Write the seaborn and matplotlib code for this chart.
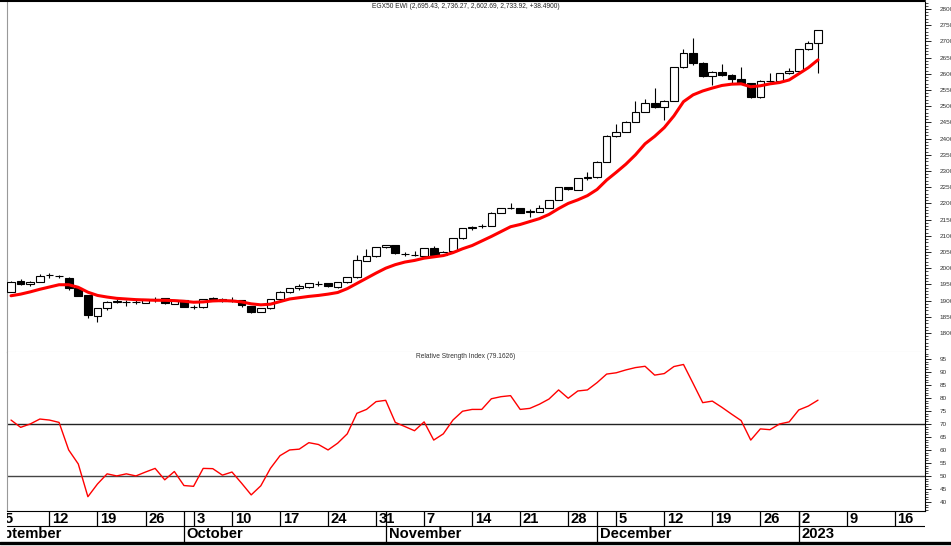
import numpy as np
import pandas as pd
import matplotlib
matplotlib.use("Agg")
import matplotlib.pyplot as plt
import seaborn as sns
from matplotlib.lines import Line2D
from matplotlib.ticker import MultipleLocator, FixedLocator

sns.set_theme(style="white")
plt.rcParams["font.family"] = ["Liberation Sans", "DejaVu Sans"]

# ----------------------------------------------------------
# data (EGX50 EWI daily, Egyptian trading week Sun-Thu)
# ----------------------------------------------------------
holidays = ["2022-10-06", "2023-01-01"]
first_day = "2022-09-06"
last_day = "2023-01-04"

opens = [1928, 1960, 1950, 1957, 1978, 1976, 1969, 1938, 1917, 1852,
         1876, 1896, 1896, 1896, 1894, 1905, 1907, 1891, 1902, 1880,
         1879, 1906, 1905, 1900, 1902, 1883, 1866, 1876, 1904, 1926,
         1940, 1941, 1951, 1953, 1941, 1956, 1972, 2023, 2037, 2064,
         2071, 2045, 2042, 2038, 2061, 2041, 2053, 2092, 2124, 2130,
         2130, 2171, 2186, 2185, 2175, 2175, 2187, 2210, 2250, 2241,
         2279, 2280, 2329, 2408, 2421, 2452, 2483, 2509, 2497, 2517,
         2620, 2665, 2634, 2593, 2607, 2596, 2583, 2571, 2527, 2578,
         2579, 2602, 2610, 2676, 2695.43]
highs = [1960, 1966, 1961, 1981, 1986, 1979, 1974, 1938, 1918, 1877,
         1900, 1904, 1902, 1904, 1905, 1912, 1908, 1902, 1903, 1886,
         1906, 1912, 1907, 1912, 1903, 1884, 1877, 1906, 1929, 1940,
         1951, 1955, 1960, 1955, 1957, 1974, 2041, 2058, 2066, 2073,
         2073, 2051, 2052, 2062, 2068, 2052, 2093, 2125, 2130, 2136,
         2173, 2187, 2202, 2187, 2182, 2195, 2212, 2252, 2252, 2279,
         2297, 2331, 2410, 2445, 2454, 2517, 2521, 2555, 2519, 2622,
         2676, 2710, 2636, 2609, 2630, 2598, 2620, 2573, 2581, 2601,
         2604, 2617, 2678, 2702, 2736.27]
lows = [1926, 1948, 1946, 1956, 1971, 1969, 1933, 1914, 1845, 1835,
        1872, 1892, 1883, 1890, 1893, 1897, 1889, 1890, 1879, 1873,
        1876, 1902, 1897, 1897, 1881, 1863, 1865, 1875, 1903, 1925,
        1933, 1940, 1946, 1943, 1940, 1955, 1971, 2022, 2036, 2062,
        2044, 2038, 2037, 2037, 2040, 2040, 2052, 2091, 2118, 2123,
        2129, 2170, 2182, 2170, 2159, 2174, 2186, 2209, 2242, 2240,
        2273, 2279, 2328, 2406, 2420, 2451, 2482, 2495, 2457, 2516,
        2619, 2627, 2591, 2565, 2594, 2573, 2569, 2525, 2525, 2576,
        2577, 2600, 2608, 2674, 2602.69]
closes = [1958, 1951, 1957, 1976, 1980, 1975, 1938, 1915, 1856, 1876,
          1897, 1899, 1895, 1896, 1904, 1904, 1892, 1901, 1881, 1881,
          1904, 1907, 1899, 1900, 1886, 1866, 1876, 1904, 1927, 1938,
          1944, 1953, 1952, 1945, 1956, 1972, 2025, 2037, 2064, 2071,
          2046, 2044, 2041, 2061, 2041, 2051, 2092, 2123, 2127, 2130,
          2171, 2185, 2187, 2171, 2175, 2187, 2210, 2250, 2244, 2277,
          2280, 2329, 2408, 2421, 2452, 2483, 2509, 2497, 2517, 2620,
          2665, 2634, 2593, 2607, 2596, 2583, 2571, 2527, 2579, 2579,
          2602, 2610, 2676, 2696, 2733.92]
moving_avg = [1915, 1920, 1927, 1935, 1942, 1949, 1949, 1941, 1926, 1916,
              1911, 1907, 1905, 1903, 1902, 1901, 1901, 1900, 1898, 1895,
              1896, 1899, 1900, 1899, 1896, 1890, 1887, 1889, 1897, 1905,
              1909, 1913, 1916, 1920, 1925, 1937, 1953, 1969, 1985, 2000,
              2011, 2019, 2024, 2031, 2035, 2039, 2048, 2060, 2070, 2084,
              2098, 2113, 2128, 2135, 2144, 2153, 2166, 2184, 2200, 2211,
              2224, 2243, 2272, 2296, 2321, 2350, 2384, 2407, 2434, 2470,
              2514, 2535, 2547, 2556, 2564, 2568, 2569, 2560, 2563, 2569,
              2573, 2581, 2600, 2619, 2643]
rsi = [71.5, 68.7, 70.0, 71.9, 71.5, 70.6, 60.0, 54.6, 42.0, 46.9,
       50.8, 50.0, 50.8, 50.0, 51.5, 52.9, 48.5, 51.7, 46.3, 46.0,
       52.9, 52.8, 50.3, 51.5, 47.2, 42.7, 46.2, 52.9, 57.8, 60.0,
       60.3, 62.8, 62.1, 60.0, 62.6, 66.2, 74.1, 75.6, 78.6, 79.1,
       70.6, 69.0, 67.4, 70.8, 63.8, 66.2, 71.5, 74.9, 75.6, 75.6,
       79.7, 80.5, 80.9, 75.6, 76.0, 77.6, 79.6, 83.1, 79.9, 82.7,
       83.1, 85.9, 89.2, 89.7, 90.8, 91.7, 92.2, 88.8, 89.4, 92.1,
       92.9, 85.6, 78.2, 78.8, 76.4, 73.8, 71.3, 63.8, 68.1, 67.8,
       70.0, 70.8, 75.4, 76.9, 79.1626]
month_labels = ["September", "October", "November", "December", "2023"]
price_ticks = list(range(1800, 2801, 50))
rsi_ticks = list(range(40, 96, 5))

price_title = "EGX50 EWI (2,695.43, 2,736.27, 2,602.69, 2,733.92, +38.4900)"
rsi_title = "Relative Strength Index (79.1626)"

# ----------------------------------------------------------
# trading-day positions
# ----------------------------------------------------------
calendar = pd.bdate_range("2022-09-01", "2023-01-20", freq="C",
                          weekmask="Sun Mon Tue Wed Thu", holidays=holidays)
base = calendar.get_loc(pd.Timestamp(first_day))
dates = calendar[(calendar >= first_day) & (calendar <= last_day)]

df = pd.DataFrame({
    "date": dates,
    "pos": [calendar.get_loc(d) - base for d in dates],
    "open": opens, "high": highs, "low": lows, "close": closes,
    "ma": moving_avg, "rsi": rsi,
})
df["up"] = df["close"] >= df["open"]

mondays = pd.date_range("2022-09-05", "2023-01-16", freq="W-MON")
week_pos = [calendar.get_loc(d) - base for d in mondays]
month_first = calendar.to_series().groupby(calendar.to_period("M")).first()
month_pos = [calendar.get_loc(d) - base for d in month_first]

# ----------------------------------------------------------
# figure layout (pixel based)
# ----------------------------------------------------------
W, H = 951, 546
fig = plt.figure(figsize=(W / 100, H / 100), dpi=100, facecolor="white")

def px_axes(x0, y0, x1, y1):
    return fig.add_axes([x0 / W, 1 - y1 / H, (x1 - x0) / W, (y1 - y0) / H])

ax_p = px_axes(7, 2, 925, 352)
ax_r = px_axes(7, 352, 925, 511)
ax_d = px_axes(7, 511, 925, 542)

xlim = (-0.42, 95.14)
for ax in (ax_p, ax_r, ax_d):
    ax.set_xlim(*xlim)
    ax.set_facecolor("white")

# ----------------------------------------------------------
# price panel
# ----------------------------------------------------------
body_lo = df[["open", "close"]].min(axis=1)
body_h = (df["close"] - df["open"]).abs().clip(lower=1.0)

ax_p.vlines(df["pos"], df["low"], df["high"], color="black", lw=0.8, zorder=2)
ax_p.bar(df["pos"], body_h, bottom=body_lo, width=0.8,
         color=np.where(df["up"], "white", "black"),
         edgecolor="black", linewidth=0.8, zorder=3)
sns.lineplot(data=df, x="pos", y="ma", ax=ax_p, color="#ff0000", lw=2.2,
             zorder=4)

ax_p.set_ylim(1741.4, 2821.6)
ax_p.yaxis.set_major_locator(FixedLocator(price_ticks))
ax_p.yaxis.set_minor_locator(MultipleLocator(10))
ax_p.text(0.5, 1 - 5 / 350, price_title, transform=ax_p.transAxes,
          ha="center", va="center", fontsize=4.8, color="#222222")

# ----------------------------------------------------------
# RSI panel
# ----------------------------------------------------------
ax_r.axhline(70, color="#222222", lw=1.0, zorder=1)
ax_r.axhline(50, color="#444444", lw=1.0, zorder=1)
sns.lineplot(data=df, x="pos", y="rsi", ax=ax_r, color="#ff0000", lw=1.0,
             zorder=3)
ax_r.set_ylim(36.5, 97.7)
ax_r.yaxis.set_major_locator(FixedLocator(rsi_ticks))
ax_r.yaxis.set_minor_locator(MultipleLocator(1))
ax_r.text(0.5, 1 - 5 / 159, rsi_title, transform=ax_r.transAxes,
          ha="center", va="center", fontsize=4.8, color="#333333")

for ax in (ax_p, ax_r):
    ax.set_xlabel("")
    ax.set_ylabel("")
    ax.yaxis.tick_right()
    ax.tick_params(axis="x", bottom=False, labelbottom=False)
    ax.tick_params(axis="y", which="major", right=True, left=False,
                   direction="out", length=4.5, width=0.6, pad=6,
                   labelsize=4.6, labelcolor="#333333", color="black")
    ax.tick_params(axis="y", which="minor", right=True, left=False,
                   direction="out", length=2.2, width=0.5, color="black")
    ax.spines["left"].set_color("#999999")
    ax.spines["left"].set_linewidth(0.8)
    ax.spines["right"].set_color("black")
    ax.spines["right"].set_linewidth(0.8)
    ax.grid(False)

ax_p.spines["top"].set_visible(False)
ax_p.spines["bottom"].set_color("#cccccc")
ax_p.spines["bottom"].set_linewidth(0.8)
ax_r.spines["top"].set_visible(False)
ax_r.spines["bottom"].set_color("black")
ax_r.spines["bottom"].set_linewidth(0.8)

# ----------------------------------------------------------
# date rows
# ----------------------------------------------------------
ax_d.set_ylim(0, 31)
ax_d.axis("off")
ax_d.axhline(16, color="black", lw=0.8)
ax_d.vlines(week_pos, 16, 31, color="black", lw=0.9)
ax_d.vlines(month_pos, 0, 31, color="black", lw=0.9)
for p, d in zip(week_pos, mondays):
    ax_d.text(p + 0.28, 23.2, str(d.day), ha="left", va="center",
              fontsize=10.6, fontweight="bold", color="black", clip_on=True)
for p, lab in zip(month_pos, month_labels):
    ax_d.text(p + 0.3, 7.8, lab, ha="left", va="center",
              fontsize=10.6, fontweight="bold", color="black", clip_on=True)

# frame lines across the figure
fig.add_artist(Line2D([0, 925 / W], [1 - 1 / H] * 2, color="black", lw=1.5))
fig.add_artist(Line2D([0, 1], [3 / H] * 2, color="black", lw=2.4))

fig.savefig("out.png", dpi=100, facecolor="white")
